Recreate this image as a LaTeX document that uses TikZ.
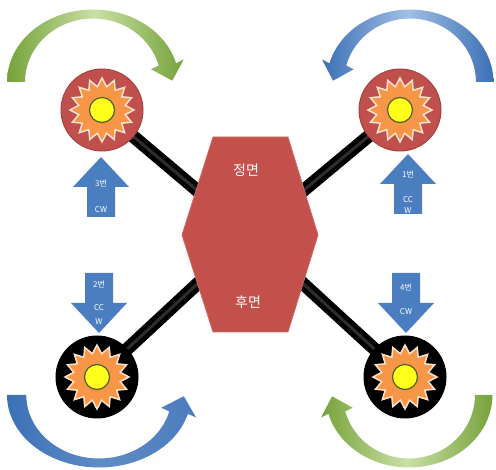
\documentclass[tikz,border=0pt]{standalone}
\usepackage{fontspec}
\newfontfamily\krfont{Noto Sans CJK KR}
\usetikzlibrary{shapes.geometric}

\definecolor{motorred}{HTML}{C0504D}
\definecolor{motoredge}{HTML}{A8403D}
\definecolor{hexred}{HTML}{C4504B}
\definecolor{starorange}{HTML}{F79646}
\definecolor{starrim}{HTML}{FCE2CC}
\definecolor{hubyellow}{HTML}{FFFF1A}
\definecolor{hubrim}{HTML}{4F6228}
\definecolor{blockblue}{HTML}{4A7EC0}
\definecolor{gdark}{HTML}{76A23A}
\definecolor{glight}{HTML}{C8E0A4}
\definecolor{bdark}{HTML}{3C70B6}
\definecolor{blight}{HTML}{A0BFE4}

\tikzset{
  % curved rotation arrow, drawn around its own centre, head at the right end
  turnarrow/.pic={
    \path[pic actions]
      plot[domain=180:15,samples=50] ({86*cos(\x)},{-72.5*sin(\x)})
      -- (90.7,-22.5) -- (79.3,-1.3) -- (58.1,-12.7)
      -- plot[domain=15:180,samples=50] ({68*cos(\x)},{-63.5*sin(\x)})
      -- cycle;
  },
  % straight block arrow pointing up, origin at the base of its head
  blockarrow/.pic={
    \fill[blockblue] (-14,30) -- (-14,0) -- (-28,0) -- (0,-30)
      -- (28,0) -- (14,0) -- (14,30) -- cycle;
  },
  greenturn/.style={left color=gdark, right color=gdark, middle color=glight},
  blueturn/.style={left color=bdark, right color=bdark, middle color=blight},
  blueturnflat/.style={left color=bdark, right color=bdark!85!blight,
    middle color=bdark!65!blight},
  motor/.style={circle, minimum size=82pt, inner sep=0pt, line width=1pt},
  blade/.style={star, star points=16, star point ratio=1.35, minimum size=64pt,
    inner sep=0pt, fill=starorange, draw=starrim, line width=1.5pt},
  hubdot/.style={circle, minimum size=25pt, inner sep=0pt, fill=hubyellow,
    draw=hubrim, line width=1.2pt},
  arm/.style={line width=13pt, black},
  armshine/.style={line width=3pt, black!82},
  bigtext/.style={text=white, font=\krfont\fontsize{14}{16}\selectfont},
  smalltext/.style={text=white, inner sep=0pt, align=center,
    font=\krfont\fontsize{8}{10}\selectfont},
}

\begin{document}
\begin{tikzpicture}[x=1pt,y=-1pt]
\useasboundingbox (0,0) rectangle (496,470);

% positions of the motors and the body centre
\coordinate (c1) at (102,110);
\coordinate (c2) at (400,110);
\coordinate (c3) at (97,377);
\coordinate (c4) at (405,377);
\coordinate (hub) at (250,235);

% arms
\foreach \c in {c1,c2,c3,c4}{
  \draw[arm] (\c) -- (hub);
  \draw[armshine] (\c) -- (hub);
}

% body
\path[fill=hexred, draw=hexred!85!white, line width=0.8pt]
  (213,137) -- (288,137) -- (318,235) -- (288,332) -- (213,332) -- (182,235) -- cycle;
\node[bigtext] (front) at (246,170) {정면};
\node[bigtext] (rear) at (248,302) {후면};

% motors with propellers
\node[motor, fill=motorred, draw=motoredge] (m1) at (c1) {};
\node[motor, fill=motorred, draw=motoredge] (m2) at (c2) {};
\node[motor, fill=black, draw=black] (m3) at (c3) {};
\node[motor, fill=black, draw=black] (m4) at (c4) {};
\foreach \m in {m1,m2,m3,m4}{
  \node[blade] at (\m) {};
  \node[hubdot] at (\m) {};
}

% rotation direction arrows
\pic[greenturn] at (93,82) {turnarrow};
\pic[blueturn, xscale=-0.97] at (410,82) {turnarrow};
\pic[blueturnflat, xscale=1.07, yscale=-1] at (99,395) {turnarrow};
\pic[greenturn, xscale=-0.97, yscale=-1] at (409,395) {turnarrow};

% motor number arrows and labels
\pic at (101,187) {blockarrow};
\pic at (408,184) {blockarrow};
\pic[yscale=-1] at (99,303) {blockarrow};
\pic[yscale=-1] at (406,303) {blockarrow};

\node[smalltext] (l3) at (101,183) {3번};
\node[smalltext] (d3) at (101,210) {CW};
\node[smalltext] (l1) at (408,174) {1번};
\node[smalltext, font=\krfont\fontsize{8}{11}\selectfont] (d1) at (408,205) {CC\\W};
\node[smalltext] (l2) at (99,284) {2번};
\node[smalltext, font=\krfont\fontsize{8}{14}\selectfont] (d2) at (99,315) {CC\\W};
\node[smalltext] (l4) at (406,287) {4번};
\node[smalltext] (d4) at (406,312) {CW};
\end{tikzpicture}
\end{document}
